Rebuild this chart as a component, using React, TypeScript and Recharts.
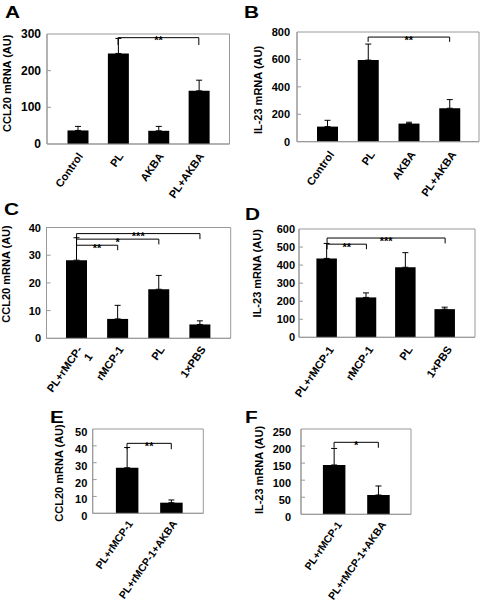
import React from 'react';
import { BarChart, Bar, XAxis, YAxis, ErrorBar, CartesianGrid, ReferenceLine } from 'recharts';

// ---------- DATA ----------
const catsA = ['Control', 'PL', 'AKBA', 'PL+AKBA'];
const valsA = [37, 247, 36, 145];
const errsA = [11, 41, 12, 29];
const ticksA = [0, 100, 200, 300];
const bracketsA = [{ from: 'PL', to: 'PL+AKBA', y: 290, drop: 270, label: '**' }];

const catsB = ['Control', 'PL', 'AKBA', 'PL+AKBA'];
const valsB = [110, 595, 132, 244];
const errsB = [46, 117, 10, 63];
const ticksB = [0, 200, 400, 600, 800];
const bracketsB = [{ from: 'PL', to: 'PL+AKBA', y: 763, drop: 728, label: '**' }];

const catsC = ['PL+rMCP-1', 'rMCP-1', 'PL', '1×PBS'];
const tickLinesC = [['PL+rMCP-', '1'], ['rMCP-1'], ['PL'], ['1×PBS']];
const valsC = [28.2, 7.0, 17.7, 5.0];
const errsC = [8.1, 4.9, 5.0, 1.3];
const ticksC = [0, 10, 20, 30, 40];
const bracketsC = [
  { from: 'PL+rMCP-1', to: 'rMCP-1', y: 33.6, drop: 31.8, label: '**' },
  { from: 'PL+rMCP-1', to: 'PL', y: 35.8, drop: 33.9, label: '*' },
  { from: 'PL+rMCP-1', to: '1×PBS', y: 37.8, drop: 35.8, label: '***' },
];

const catsD = ['PL+rMCP-1', 'rMCP-1', 'PL', '1×PBS'];
const valsD = [437, 221, 388, 156];
const errsD = [83, 25, 81, 11];
const ticksD = [0, 100, 200, 300, 400, 500, 600];
const bracketsD = [
  { from: 'PL+rMCP-1', to: 'rMCP-1', y: 516, drop: 488, label: '**' },
  { from: 'PL+rMCP-1', to: '1×PBS', y: 550, drop: 520, label: '***' },
];

const catsE = ['PL+rMCP-1', 'PL+rMCP-1+AKBA'];
const valsE = [27, 6.3];
const errsE = [12, 1.6];
const ticksE = [0, 10, 20, 30, 40, 50];
const bracketsE = [{ from: 'PL+rMCP-1', to: 'PL+rMCP-1+AKBA', y: 41.5, drop: 38, label: '**' }];

const catsF = ['PL+rMCP-1', 'PL+rMCP-1+AKBA'];
const valsF = [144.5, 56.6];
const errsF = [48.5, 26.4];
const ticksF = [0, 50, 100, 150, 200, 250];
const bracketsF = [{ from: 'PL+rMCP-1', to: 'PL+rMCP-1+AKBA', y: 211, drop: 195, label: '*' }];

// ---------- STYLE / LAYOUT ----------
const FONT = '"Liberation Sans", Arial, Helvetica, sans-serif';
const GREY = '#999999';

type Bracket = { from: string; to: string; y: number; drop: number; label: string };

type PanelProps = {
  letter: string;
  cats: string[];
  vals: number[];
  errs: number[];
  ticks: number[];
  brackets: Bracket[];
  tickLines?: string[][];
  yLabel: string;
  left: number;
  top: number;
  width: number;
  height: number;
  plot: { l: number; t: number; r: number; b: number };
  pad: { left: number; right: number };
  barSize: number;
  tickGap: number;
  tickDy: number;
  tickFs: number;
  xFs: number;
  labelPos: { x: number; y: number };
  letterPos: { x: number; y: number };
  xdx: number;
  xdy: number;
};

function Panel(p: PanelProps) {
  const data = p.cats.map((c, i) => ({ name: c, value: p.vals[i], err: [0, p.errs[i]] }));
  const yAxisW = p.plot.l - p.left;
  const mTop = p.plot.t - p.top;
  const mRight = p.left + p.width - p.plot.r;
  const xAxisH = p.top + p.height - p.plot.b;
  const gridH = [mTop, p.plot.b - p.top];
  const gridV = [yAxisW, p.plot.r - p.left];
  const maxTick = p.ticks[p.ticks.length - 1];

  const yTick = (tp: any) => {
    const { x, y, payload } = tp;
    const axisX = x + p.tickGap;
    const edge = payload.value === 0 || payload.value === maxTick;
    return (
      <g>
        {!edge && <line x1={axisX} x2={axisX + 4} y1={y} y2={y} stroke={GREY} strokeWidth={1} />}
        <text
          x={x}
          y={y + p.tickDy}
          textAnchor="end"
          dominantBaseline="central"
          fontSize={p.tickFs}
          fontWeight="bold"
          fontFamily={FONT}
          fill="#000"
        >
          {payload.value}
        </text>
      </g>
    );
  };

  const xTick = (tp: any) => {
    const { x, y, payload, index } = tp;
    const lines = p.tickLines ? p.tickLines[index] : [String(payload.value)];
    const ax = x + p.xdx;
    const ay = y + p.xdy;
    return (
      <g transform={`rotate(-55, ${ax}, ${ay})`}>
        {lines.map((ln, i) => (
          <text
            key={i}
            x={ax}
            y={ay + i * 12.5}
            textAnchor="end"
            dominantBaseline="central"
            fontSize={p.xFs}
            fontWeight="bold"
            fontFamily={FONT}
            fill="#000"
          >
            {ln}
          </text>
        ))}
      </g>
    );
  };

  const yLabelContent = () => (
    <text
      x={p.labelPos.x}
      y={p.labelPos.y}
      transform={`rotate(-90, ${p.labelPos.x}, ${p.labelPos.y})`}
      textAnchor="middle"
      dominantBaseline="central"
      fontSize={11}
      fontWeight="bold"
      fontFamily={FONT}
      fill="#000"
    >
      {p.yLabel}
    </text>
  );

  const starLabel = (text: string) => (lp: any) => {
    const vb = lp.viewBox || {};
    return (
      <text
        x={vb.x + (vb.width || 0) / 2}
        y={vb.y + 2.5}
        textAnchor="middle"
        dominantBaseline="central"
        fontSize={11}
        fontWeight="bold"
        fontFamily={FONT}
        fill="#000"
      >
        {text}
      </text>
    );
  };

  return (
    <div style={{ position: 'absolute', left: p.left, top: p.top, width: p.width, height: p.height }}>
      <div
        style={{
          position: 'absolute',
          left: p.letterPos.x - p.left,
          top: p.letterPos.y - p.top - 13.5,
          fontFamily: FONT,
          fontWeight: 'bold',
          fontSize: 16,
          lineHeight: '16px',
          transform: 'scaleX(1.3)',
          transformOrigin: 'left center',
          color: '#000',
        }}
      >
        {p.letter}
      </div>
      <BarChart
        width={p.width}
        height={p.height}
        data={data}
        margin={{ top: mTop, right: mRight, left: 0, bottom: 0 }}
        barSize={p.barSize}
      >
        <CartesianGrid stroke={GREY} horizontalPoints={gridH} verticalPoints={gridV} fill="none" />
        <XAxis
          dataKey="name"
          height={xAxisH}
          padding={p.pad}
          interval={0}
          tickLine={false}
          tickSize={0}
          tickMargin={0}
          axisLine={{ stroke: GREY }}
          tick={xTick}
        />
        <YAxis
          width={yAxisW}
          domain={[0, maxTick]}
          ticks={p.ticks}
          interval={0}
          tickLine={false}
          tickSize={0}
          tickMargin={p.tickGap}
          axisLine={{ stroke: GREY }}
          tick={yTick}
          label={yLabelContent}
        />
        <Bar dataKey="value" fill="#000" isAnimationActive={false}>
          <ErrorBar dataKey="err" width={3} stroke="#000" strokeWidth={1} direction="y" />
        </Bar>
        {p.brackets.map((b, i) => (
          <ReferenceLine
            key={`h${i}`}
            segment={[{ x: b.from, y: b.y }, { x: b.to, y: b.y }]}
            stroke="#000"
            strokeWidth={1}
            label={starLabel(b.label)}
          />
        ))}
        {p.brackets.map((b, i) => (
          <ReferenceLine
            key={`l${i}`}
            segment={[{ x: b.from, y: b.y }, { x: b.from, y: b.drop }]}
            stroke="#000"
            strokeWidth={1}
          />
        ))}
        {p.brackets.map((b, i) => (
          <ReferenceLine
            key={`r${i}`}
            segment={[{ x: b.to, y: b.y }, { x: b.to, y: b.drop }]}
            stroke="#000"
            strokeWidth={1}
          />
        ))}
      </BarChart>
    </div>
  );
}

export default function App() {
  return (
    <div style={{ position: 'absolute', left: 0, top: 0, width: 483, height: 606, background: '#fff', overflow: 'hidden' }}>
      <Panel
        letter="A" cats={catsA} vals={valsA} errs={errsA} ticks={ticksA} brackets={bracketsA}
        yLabel="CCL20 mRNA (AU)"
        left={0} top={0} width={240} height={200}
        plot={{ l: 47, t: 34, r: 229.5, b: 144 }} pad={{ left: 10.5, right: 10.5 }} barSize={21}
        tickGap={6} tickDy={0} tickFs={12} xFs={11}
        labelPos={{ x: 7.5, y: 83.3 }} letterPos={{ x: 5, y: 18.3 }} xdx={2.5} xdy={10}
      />
      <Panel
        letter="B" cats={catsB} vals={valsB} errs={errsB} ticks={ticksB} brackets={bracketsB}
        yLabel="IL-23 mRNA (AU)"
        left={240} top={0} width={243} height={200}
        plot={{ l: 297, t: 32, r: 479, b: 141.7 }} pad={{ left: 10, right: 9 }} barSize={21}
        tickGap={7} tickDy={0} tickFs={11} xFs={11}
        labelPos={{ x: 17.5, y: 90 }} letterPos={{ x: 244, y: 18.3 }} xdx={4} xdy={10.5}
      />
      <Panel
        letter="C" cats={catsC} vals={valsC} errs={errsC} ticks={ticksC} brackets={bracketsC}
        tickLines={tickLinesC}
        yLabel="CCL20 mRNA (AU)"
        left={0} top={195} width={240} height={210}
        plot={{ l: 46.5, t: 227.5, r: 230.7, b: 338.3 }} pad={{ left: 9.5, right: 10.2 }} barSize={21}
        tickGap={5.5} tickDy={0} tickFs={11} xFs={11}
        labelPos={{ x: 6, y: 79 }} letterPos={{ x: 4, y: 215 }} xdx={3} xdy={9}
      />
      <Panel
        letter="D" cats={catsD} vals={valsD} errs={errsD} ticks={ticksD} brackets={bracketsD}
        yLabel="IL-23 mRNA (AU)"
        left={240} top={195} width={243} height={210}
        plot={{ l: 299, t: 229, r: 475, b: 337.3 }} pad={{ left: 8.4, right: 10.2 }} barSize={20.5}
        tickGap={4} tickDy={0} tickFs={11} xFs={11}
        labelPos={{ x: 17.5, y: 78.3 }} letterPos={{ x: 245, y: 220 }} xdx={4} xdy={10}
      />
      <Panel
        letter="E" cats={catsE} vals={valsE} errs={errsE} ticks={ticksE} brackets={bracketsE}
        yLabel="CCL20 mRNA (AU)"
        left={0} top={405} width={240} height={201}
        plot={{ l: 92.7, t: 429, r: 203.3, b: 513.3 }} pad={{ left: 12.2, right: 9.9 }} barSize={22.5}
        tickGap={5.4} tickDy={3} tickFs={11} xFs={10.5}
        labelPos={{ x: 59, y: 68 }} letterPos={{ x: 50, y: 423 }} xdx={3} xdy={8}
      />
      <Panel
        letter="F" cats={catsF} vals={valsF} errs={errsF} ticks={ticksF} brackets={bracketsF}
        yLabel="IL-23 mRNA (AU)"
        left={240} top={405} width={243} height={201}
        plot={{ l: 301, t: 429, r: 411, b: 514.3 }} pad={{ left: 10.9, right: 10.5 }} barSize={22.5}
        tickGap={10} tickDy={3} tickFs={11} xFs={10.5}
        labelPos={{ x: 19, y: 65 }} letterPos={{ x: 245, y: 423 }} xdx={5} xdy={8}
      />
    </div>
  );
}
